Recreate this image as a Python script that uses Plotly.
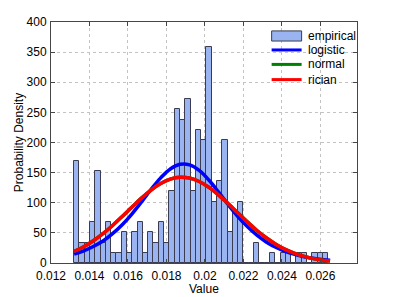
import plotly.graph_objects as go

# Histogram (probability density), 48 bins
bin_start = 0.0132
bin_width = 0.000275
density = [170, 34, 34, 68, 153, 34, 68, 17, 17, 51, 17, 51,
           68, 17, 51, 34, 68, 34, 119, 255, 238, 272, 119, 221,
           204, 358, 102, 136, 204, 51, 85, 102, 0, 0, 34, 0,
           0, 17, 0, 17, 17, 0, 17, 17, 0, 17, 17, 17]

# Fitted curves
curve_x = [0.0132, 0.0137, 0.0142, 0.0147, 0.0152, 0.0157, 0.0162, 0.0167,
           0.0172, 0.0177, 0.0182, 0.0187, 0.0192, 0.0197, 0.0202, 0.0207,
           0.0212, 0.0217, 0.0222, 0.0227, 0.0232, 0.0237, 0.0242, 0.0247,
           0.0252, 0.0257, 0.0262, 0.0265]
logistic = [14.8, 20.2, 27.3, 36.4, 48.7, 63.5, 81.3, 101.3, 122.3, 141.3,
            156.1, 163.8, 162.9, 153.6, 137.7, 118.0, 97.2, 77.6, 60.5, 46.1,
            34.6, 25.8, 19.0, 13.9, 10.1, 7.4, 5.3, 4.4]
normal = [19.3, 27.1, 37.0, 48.8, 62.3, 77.2, 92.6, 107.6, 121.1, 131.9,
          139.3, 142.4, 141.0, 135.3, 125.8, 113.2, 98.7, 83.4, 68.2, 54.0,
          41.5, 30.8, 22.2, 15.5, 10.5, 6.8, 4.3, 3.3]
rician = [19.3, 27.1, 37.0, 48.8, 62.3, 77.2, 92.6, 107.6, 121.1, 131.9,
          139.3, 142.4, 141.0, 135.3, 125.8, 113.2, 98.7, 83.4, 68.2, 54.0,
          41.5, 30.8, 22.2, 15.5, 10.5, 6.8, 4.3, 3.3]

x_ticks = [0.012, 0.014, 0.016, 0.018, 0.02, 0.022, 0.024, 0.026]
x_ticklabels = ["0.012", "0.014", "0.016", "0.018", "0.02", "0.022", "0.024", "0.026"]
y_ticks = [0, 50, 100, 150, 200, 250, 300, 350, 400]

legend_labels = ["empirical", "logistic", "normal", "rician"]
x_title = "Value"
y_title = "Probability Density"

BAR_FILL = "rgb(153,180,240)"
BAR_EDGE = "rgb(60,60,80)"
LINE_COLORS = ["rgb(0,0,255)", "rgb(0,128,0)", "rgb(255,0,0)"]

centers = [bin_start + bin_width * (i + 0.5) for i in range(len(density))]

fig = go.Figure()
fig.add_trace(go.Bar(x=centers, y=density, width=bin_width, name=legend_labels[0],
                     marker=dict(color=BAR_FILL, line=dict(color=BAR_EDGE, width=1))))
for name, ys, col in zip(legend_labels[1:], [logistic, normal, rician], LINE_COLORS):
    fig.add_trace(go.Scatter(x=curve_x, y=ys, mode="lines", name=name,
                             line=dict(color=col, width=3.5, shape="spline")))

# Legend drawn in paper coordinates (MATLAB style, no box)
leg_x0, leg_x1, txt_x = 0.721, 0.819, 0.832
leg_rows = [0.942, 0.884, 0.824, 0.761]
fig.add_shape(type="rect", xref="paper", yref="paper", x0=leg_x0, x1=leg_x1,
              y0=leg_rows[0] - 0.021, y1=leg_rows[0] + 0.021,
              fillcolor=BAR_FILL, line=dict(color=BAR_EDGE, width=1))
for yy, col in zip(leg_rows[1:], LINE_COLORS):
    fig.add_shape(type="line", xref="paper", yref="paper", x0=leg_x0, x1=leg_x1,
                  y0=yy, y1=yy, line=dict(color=col, width=3))
for yy, lab in zip(leg_rows, legend_labels):
    fig.add_annotation(xref="paper", yref="paper", x=txt_x, y=yy, text=lab,
                       showarrow=False, xanchor="left", yanchor="middle",
                       font=dict(size=12, color="black"))

# x-axis title placed like MATLAB's
fig.add_annotation(xref="paper", yref="paper", x=0.5, y=-0.108, text=x_title,
                   showarrow=False, xanchor="center", yanchor="middle",
                   font=dict(size=12, color="black"))

axis_common = dict(showline=True, linecolor="rgb(70,70,70)", linewidth=1, mirror="ticks",
                   ticks="inside", ticklen=4, tickcolor="rgb(70,70,70)",
                   showgrid=True, gridcolor="rgb(195,195,195)", griddash="dot", gridwidth=1,
                   zeroline=False, automargin=False,
                   tickfont=dict(size=12, color="black"))

fig.update_layout(
    width=395, height=297,
    margin=dict(l=51, r=38, t=22, b=34),
    paper_bgcolor="white", plot_bgcolor="white",
    font=dict(family="Liberation Sans, Arial, sans-serif", size=12, color="black"),
    bargap=0,
    showlegend=False,
    xaxis=dict(range=[0.012, 0.0279], tickvals=x_ticks, ticktext=x_ticklabels,
               ticklabelstandoff=2, **axis_common),
    yaxis=dict(range=[0, 400], tickvals=y_ticks, ticklabelstandoff=1,
               title=dict(text=y_title, font=dict(size=12), standoff=0), **axis_common),
)

fig.write_html("out.html", config={"displayModeBar": False},
               post_script="document.body.style.margin='0';document.body.style.overflow='hidden';")
